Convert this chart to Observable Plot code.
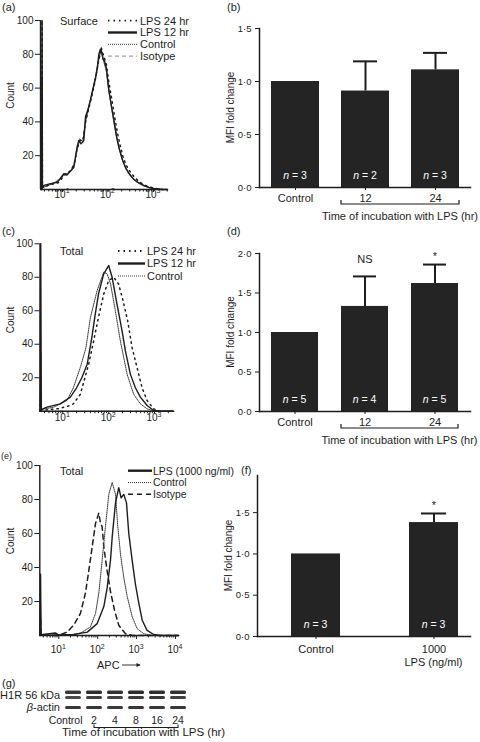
<!DOCTYPE html>
<html>
<head>
<meta charset="utf-8">
<script src="https://cdn.jsdelivr.net/npm/d3@7"></script>
<script src="https://cdn.jsdelivr.net/npm/@observablehq/plot@0.6"></script>
<style>
  html, body { margin: 0; padding: 0; background: #fff; }
  #fig { position: relative; width: 480px; height: 742px; overflow: hidden; background: #fff;
         font-family: "Liberation Sans", Arial, Helvetica, sans-serif; }
  #fig svg { position: absolute; overflow: visible; }
</style>
</head>
<body>
<div id="fig"></div>
<script>
// ======================= DATA =======================
// (a) Surface staining histograms: [fluorescence intensity, count]
const aLps24 = [[3.45,0],[3.55,100],[3.62,1],[5,2.6],[8,4],[10,7],[12,9.5],[15,11],[18,15],[21,24],[24,29],[28,29],[32,40],[37,47],[43,54],[50,62],[56,69],[62,76],[67,80],[71,84],[76,81],[83,78],[92,74],[105,63],[120,54],[140,43],[160,34],[185,26],[215,19],[255,14],[315,10],[390,7],[490,4.5],[640,2.6],[850,1.4],[1200,0.5],[1600,0],[2030,0]];
const aLps12 = [[3.45,0],[3.55,100],[3.62,1],[3.9,2.4],[5.5,3.5],[7.7,4.3],[9.2,7],[10.7,9.3],[12.5,8.5],[14.5,10.5],[17.7,13],[20,22],[22.8,29],[25.5,27],[29.4,29],[32,43],[36,47],[41,53],[47,60],[53,66],[58,72],[63,80],[68,83],[72,82],[78,77],[84,76],[92,72],[104,59],[118,50],[134,41],[152,32],[173,25],[205,18],[243,13],[300,9],[369,6],[470,4],[612,2.4],[800,1.2],[1107,0.4],[1500,0],[2030,0]];
const aControl = [[3.45,0],[3.55,66],[3.62,1],[4.5,2],[6.5,3.8],[9,6],[11,9.5],[13,9],[16,12],[19,17],[21,26],[24,30],[28,28],[31,38],[35,45],[42,54],[50,63],[57,70],[62,77],[66,80],[70,83],[75,79],[82,75],[92,70],[102,61],[118,50],[135,40],[155,31],[178,24],[210,17],[250,12],[310,8],[380,5.5],[480,3.5],[620,2],[850,1],[1150,0.3],[1500,0],[2030,0]];
const aIsotype = [[3.45,0],[3.55,17],[3.62,1],[4.5,2.8],[7,4.2],[10,8],[12,9],[15,11],[18,14],[21,25],[25,29],[29,30],[33,42],[38,49],[44,56],[52,64],[59,72],[64,78],[69,81],[74,80],[80,76],[90,73],[102,60],[118,49],[135,41],[155,32],[175,25],[210,17],[250,12],[310,8],[380,5.5],[480,3.8],[620,2.2],[850,1],[1100,0.4],[1500,0],[2030,0]];

// (c) Total staining histograms
const cLps24 = [[3.2,0],[3.3,12],[3.4,0.5],[8,1.5],[13,3],[17,4.4],[24,10],[36.6,28],[47,42],[60,56],[78,70],[100,78],[129,80],[165,76],[206,66],[260,54],[324,38],[417,26],[535,14],[689,6.4],[962,1.4],[1300,0],[2630,0]];
const cLps12 = [[3.2,0],[3.3,100],[3.4,1],[4.5,2.4],[8.8,4.4],[14.6,8.4],[20,14],[26,20],[34,28],[43,44],[51,58],[60,70],[78,82],[100,87],[119,80],[152,64],[196,48],[232,36],[298,22],[383,14],[492,8.4],[689,3.4],[962,0.4],[1400,0],[2630,0]];
const cControl = [[3.2,0],[3.3,35],[3.4,1],[6.3,2.4],[12.3,6.4],[17,14],[24,26],[32,38],[40,56],[56,72],[78,83],[93,82],[110,76],[140,60],[180,42],[253,22],[352,10],[492,4.4],[689,1.4],[1000,0],[2630,0]];

// (e) Total staining, LPS 1000 ng/ml
const eLps1000 = [[3.3,0],[3.4,36],[3.5,0.5],[8.2,1.5],[10,0.3],[24,0.6],[54,2],[97,7],[144,17],[175,28],[213,44],[236,58],[287,78],[348,87],[400,81],[469,83],[550,78],[630,60],[771,44],[935,30],[1140,19],[1393,9],[1860,3],[2750,0.6],[4000,0],[12000,0]];
const eControl = [[3.3,0],[3.4,20],[3.5,0.5],[20,0.3],[36,1.4],[65,5],[88,13],[107,25],[130,44],[158,64],[193,83],[236,90],[287,83],[329,64],[385,48],[469,34],[573,23],[771,11],[1035,4],[1531,1],[2500,0],[12000,0]];
const eIsotype = [[3.3,0],[3.4,10],[3.5,0.3],[8,0.2],[11,0.6],[16.4,2],[24,6],[36,13],[48.5,25],[59,38],[72,52],[88,66],[107,72],[118,66],[130,64],[144,52],[175,38],[213,26],[270,15],[348,6],[518,1],[800,0],[12000,0]];

// histogram axes
const histCountTicks = [20, 40, 60, 80, 100];
const aDecades = [10, 100, 1000];       const aDecadeExp = ["1", "2", "3"];
const cDecades = [10, 100, 1000];       const cDecadeExp = ["1", "2", "3"];
const eDecades = [10, 100, 1000, 10000]; const eDecadeExp = ["1", "2", "3", "4"];

// (b) surface MFI fold change
const bCategories = ["Control", "12", "24"];
const bMeans = [1.0, 0.91, 1.11];
const bUpper = [null, 1.19, 1.27];
const bN = [3, 2, 3];
const bSig = ["", "", ""];
const bYTicks = [0, 0.5, 1.0, 1.5];

// (d) total MFI fold change
const dCategories = ["Control", "12", "24"];
const dMeans = [1.0, 1.33, 1.62];
const dUpper = [null, 1.71, 1.86];
const dN = [5, 4, 5];
const dSig = ["", "NS", "*"];
const dYTicks = [0, 0.5, 1.0, 1.5, 2.0];

// (f) total MFI fold change, LPS dose
const fCategories = ["Control", "1000"];
const fMeans = [1.0, 1.38];
const fUpper = [null, 1.49];
const fN = [3, 3];
const fSig = ["", "*"];
const fYTicks = [0, 0.5, 1.0, 1.5];

// (g) western blot lanes and relative band intensities
const gLanes = ["Control", "2", "4", "8", "16", "24"];
const gRows = ["H1R upper", "H1R lower", "gap", "β-actin"];
const gH1RUpper = [0.88, 0.92, 0.9, 0.93, 0.92, 0.9];
const gH1RLower = [0.8, 0.85, 0.83, 0.86, 0.88, 0.84];
const gActin = [0.88, 0.88, 0.87, 0.88, 0.88, 0.88];

// ======================= STYLE =======================
const FONT = '"Liberation Sans", Arial, Helvetica, sans-serif';
const INK = "#1d1d1d";
const BAR = "#242424";
const baseStyle = {fontFamily: FONT, fontSize: "10px", color: INK, background: "transparent", overflow: "visible"};
const lineStyles = {
  lps24:    {stroke: INK, width: 1.5, dash: "1.5,4", legendWidth: 1.8},
  lps12:    {stroke: INK, width: 1.4, dash: null, legendWidth: 2.4},
  control:  {stroke: "#3a3a3a", width: 1, dash: "1,1", legendWidth: 1},
  isoGrey:  {stroke: "#a2a2a2", width: 1.2, dash: "4,3", legendWidth: 1.2},
  isoBlack: {stroke: INK, width: 1.5, dash: "5,4", legendWidth: 1.5}
};
const dotFmt = d => d3.format(".1f")(d).replace(".", "·");

const figEl = document.getElementById("fig");
function place(svg, left, top) {
  svg.style.left = left + "px";
  svg.style.top = top + "px";
  figEl.appendChild(svg);
}
function txt(g, x, y, s, size, anchor = "start", fill = INK) {
  return g.append("text").attr("x", x).attr("y", y).attr("font-size", size)
    .attr("text-anchor", anchor).attr("fill", fill).attr("font-family", FONT).text(s);
}

// ======================= HISTOGRAMS =======================
const histPanels = [
  {top: 0, height: 225, mLeft: 40, xEnd: 167, mTop: 20, yZero: 189, domain: [3.28, 2032],
   decades: aDecades, exps: aDecadeExp, labelGap: 8.5, majorTick: 3,
   title: "Surface", legendLine: [108, 137], legendText: 140, legendY0: 20.7, legendStep: 11.8, countDy: -9, legendSize: 11,
   series: [["LPS 24 hr", aLps24, "lps24"], ["LPS 12 hr", aLps12, "lps12"], ["Control", aControl, "control"], ["Isotype", aIsotype, "isoGrey"]]},
  {top: 225, height: 225, mLeft: 39.5, xEnd: 173.3, mTop: 18.3, yZero: 185.7, domain: [3.18, 2636],
   decades: cDecades, exps: cDecadeExp, labelGap: 10.5, majorTick: 3,
   title: "Total", legendLine: [118, 145], legendText: 147, legendY0: 251, legendStep: 12.5, countDy: -7, legendSize: 11,
   series: [["LPS 24 hr", cLps24, "lps24"], ["LPS 12 hr", cLps12, "lps12"], ["Control", cControl, "control"]]},
  {top: 450, height: 225, mLeft: 39.3, xEnd: 178.3, mTop: 15, yZero: 185, domain: [3.25, 12160],
   decades: eDecades, exps: eDecadeExp, labelGap: 18, majorTick: 4,
   title: "Total", legendLine: [128, 152], legendText: 153, legendY0: 470.7, legendStep: 11.8, countDy: -9, legendSize: 10.4,
   series: [["LPS (1000 ng/ml)", eLps1000, "lps12"], ["Control", eControl, "control"], ["Isotype", eIsotype, "isoBlack"]]}
];

function histogram(p) {
  const [lo, hi] = p.domain;
  const minor = [];
  for (let k = 0; k <= 4; k++) for (let m = 2; m <= 9; m++) {
    const v = m * 10 ** k;
    if (v > lo && v < hi) minor.push(v);
  }
  const drawOrder = [...p.series].reverse();
  const plot = Plot.plot({
    width: 240, height: p.height,
    marginLeft: p.mLeft, marginRight: 240 - p.xEnd, marginTop: p.mTop, marginBottom: p.height - p.yZero,
    style: baseStyle,
    x: {type: "log", domain: p.domain},
    y: {domain: [0, 100]},
    marks: [
      ...drawOrder.map(([name, data, key]) => {
        const s = lineStyles[key];
        return Plot.line(data, {x: d => d[0], y: d => d[1], stroke: s.stroke, strokeWidth: s.width,
          strokeDasharray: s.dash || undefined, strokeLinejoin: "round"});
      }),
      Plot.ruleY([0], {stroke: INK, strokeWidth: 1.4}),
      Plot.ruleX([lo], {stroke: INK, strokeWidth: 1.4}),
      Plot.axisY({ticks: histCountTicks, tickSize: 5, tickPadding: 2, label: null, fontSize: 10}),
      Plot.axisX({ticks: minor, tickSize: 2.5, tickFormat: () => "", label: null}),
      Plot.axisX({ticks: p.decades, tickSize: p.majorTick, tickFormat: () => "", label: null})
    ]
  });
  const sx = plot.scale("x"), sy = plot.scale("y");
  const g = d3.select(plot).append("g");
  p.decades.forEach((v, i) => {
    const t = g.append("text").attr("x", sx.apply(v)).attr("y", sy.apply(0) + p.labelGap)
      .attr("text-anchor", "middle").attr("font-size", 10).attr("fill", INK).attr("font-family", FONT);
    t.append("tspan").text("10");
    t.append("tspan").attr("font-size", 7).attr("dy", -4.5).text(p.exps[i]);
  });
  // y-axis title
  const cy = (sy.apply(0) + sy.apply(100)) / 2 + p.countDy;
  g.append("text").attr("transform", `translate(13.5,${cy}) rotate(-90)`)
    .attr("text-anchor", "middle").attr("font-size", 10).attr("fill", INK).attr("font-family", FONT).text("Count");
  place(plot, 0, p.top);
  return plot;
}
histPanels.forEach(histogram);

// ======================= BAR CHARTS =======================
const barPanels = [
  {top: 0, mLeft: 59, mTop: 28, mBottom: 43, yDomain: [0, 1.5], yTicks: bYTicks,
   cats: bCategories, means: bMeans, upper: bUpper, n: bN, sig: bSig, pIn: 0.32, pOut: 0.156, tickPad: 4,
   bracket: ["12", "24"], bracketTitle: "Time of incubation with LPS (hr)"},
  {top: 225, mLeft: 59, mTop: 28, mBottom: 44, yDomain: [0, 2], yTicks: dYTicks,
   cats: dCategories, means: dMeans, upper: dUpper, n: dN, sig: dSig, pIn: 0.329, pOut: 0.164, tickPad: 4,
   bracket: ["12", "24"], bracketTitle: "Time of incubation with LPS (hr)"},
  {top: 450, mLeft: 57, mTop: 25, mBottom: 44, yDomain: [0, 1.95], yTicks: fYTicks,
   cats: fCategories, means: fMeans, upper: fUpper, n: fN, sig: fSig, pIn: 0.588, pOut: 0.1, range: [79, 270], tickPad: 5.5,
   subLabel: ["1000", "LPS (ng/ml)"]}
];

function barPanel(p) {
  const rows = p.cats.map((c, i) => ({c, m: p.means[i], u: p.upper[i], n: p.n[i], s: p.sig[i]}));
  const err = rows.filter(r => r.u != null);
  const xOpts = {type: "band", domain: p.cats, paddingInner: p.pIn, paddingOuter: p.pOut};
  if (p.range) xOpts.range = p.range;
  const plot = Plot.plot({
    width: 280, height: 230, marginLeft: p.mLeft, marginRight: 10, marginTop: p.mTop, marginBottom: p.mBottom,
    style: baseStyle,
    x: xOpts,
    y: {domain: p.yDomain},
    marks: [
      Plot.ruleX(err, {x: "c", y1: "m", y2: "u", stroke: INK, strokeWidth: 2}),
      Plot.tickY(err, {x: "c", y: "u", stroke: INK, strokeWidth: 2, insetLeft: 12, insetRight: 12}),
      Plot.barY(rows, {x: "c", y: "m", fill: BAR}),
      Plot.text(rows.filter(r => r.s === "NS"), {x: "c", y: "u", text: "s", dy: -17, fontSize: 11, fill: INK}),
      Plot.text(rows.filter(r => r.s === "*"), {x: "c", y: "u", text: "s", dy: -8, fontSize: 11, fill: INK}),
      Plot.axisY({ticks: p.yTicks, tickSize: 4, tickPadding: 4, tickFormat: dotFmt, label: null, fontSize: 9.5}),
      Plot.axisX({tickSize: 3, tickPadding: p.tickPad, label: null, fontSize: 11}),
      Plot.frame({anchor: "left", stroke: INK, strokeWidth: 1.5}),
      Plot.frame({anchor: "bottom", stroke: INK, strokeWidth: 1.5})
    ]
  });
  const sx = plot.scale("x"), sy = plot.scale("y");
  const bw = sx.bandwidth;
  const y0 = sy.apply(0);
  const g = d3.select(plot).append("g");
  // n = labels inside bars
  rows.forEach(r => {
    const t = g.append("text").attr("x", sx.apply(r.c) + bw / 2).attr("y", y0 - 8.5)
      .attr("text-anchor", "middle").attr("font-size", 10.5).attr("fill", "#fff").attr("font-family", FONT);
    t.append("tspan").attr("font-style", "italic").text("n");
    t.append("tspan").text(" = " + r.n);
  });
  // y-axis title
  const cy = (sy.apply(p.yDomain[0]) + sy.apply(p.yDomain[1])) / 2;
  g.append("text").attr("transform", `translate(${p.mLeft - 25},${cy}) rotate(-90)`)
    .attr("text-anchor", "middle").attr("font-size", 10).attr("fill", INK).attr("font-family", FONT).text("MFI fold change");
  // bracket
  if (p.bracket) {
    const x1 = sx.apply(p.bracket[0]), x2 = sx.apply(p.bracket[1]) + bw;
    const yb = y0 + 17;
    g.append("path").attr("d", `M${x1},${yb - 4}V${yb}H${x2}V${yb - 4}`)
      .attr("fill", "none").attr("stroke", INK).attr("stroke-width", 1.2);
    txt(g, (x1 + x2) / 2, y0 + 33, p.bracketTitle, 11, "middle");
  }
  if (p.subLabel) {
    txt(g, sx.apply(p.subLabel[0]) + bw / 2, y0 + 29.5, p.subLabel[1], 11, "middle");
  }
  place(plot, 200, p.top);
  return plot;
}
barPanels.forEach(barPanel);

// ======================= WESTERN BLOT (g) =======================
(function blot() {
  const cells = [];
  gLanes.forEach((lane, i) => {
    cells.push({lane, row: "H1R upper", v: gH1RUpper[i]});
    cells.push({lane, row: "H1R lower", v: gH1RLower[i]});
    cells.push({lane, row: "β-actin", v: gActin[i]});
  });
  const plot = Plot.plot({
    width: 240, height: 70, marginLeft: 60, marginRight: 49, marginTop: 18, marginBottom: 31,
    style: baseStyle,
    x: {type: "band", domain: gLanes, paddingInner: 0.22, paddingOuter: 0.1, axis: null},
    y: {type: "band", domain: gRows, paddingInner: 0.35, paddingOuter: 0, axis: null},
    marks: [
      Plot.cell(cells.filter(d => d.row === "H1R upper"), {x: "lane", y: "row", fill: INK, fillOpacity: "v", rx: 1.5, insetTop: -0.5}),
      Plot.cell(cells.filter(d => d.row !== "H1R upper"), {x: "lane", y: "row", fill: INK, fillOpacity: "v", rx: 1.5})
    ]
  });
  const sx = plot.scale("x"), sy = plot.scale("y");
  const bw = sx.bandwidth;
  const g = d3.select(plot).append("g");
  gLanes.forEach((lane, i) => {
    if (i === 0) txt(g, sx.apply(lane) + bw + 1.5, 51.5, lane, 10.5, "end");
    else txt(g, sx.apply(lane) + bw / 2, 51.5, lane, 10.5, "middle");
  });
  const h1rY = (sy.apply("H1R upper") + sy.apply("H1R lower") + sy.bandwidth) / 2;
  txt(g, 60, h1rY + 3.8, "H1R 56 kDa", 11, "end");
  const ba = g.append("text").attr("x", 60).attr("y", sy.apply("β-actin") + sy.bandwidth / 2 + 3.8)
    .attr("text-anchor", "end").attr("font-size", 11).attr("fill", INK).attr("font-family", FONT);
  ba.append("tspan").attr("font-style", "italic").text("β");
  ba.append("tspan").text("-actin");
  const x1 = sx.apply("2") + bw / 2, x2 = sx.apply("24") + bw / 2;
  g.append("path").attr("d", `M${x1},52.5V55.5H${x2}V52.5`).attr("fill", "none").attr("stroke", INK).attr("stroke-width", 1.1);
  txt(g, 62, 64, "Time of incubation with LPS (hr)", 11.5, "start");
  place(plot, 0, 672);
})();

// ======================= PAGE OVERLAY (labels, legends) =======================
const over = d3.select("#fig").append("svg").attr("width", 480).attr("height", 742)
  .style("left", "0px").style("top", "0px");
txt(over, 2, 11, "(a)", 11);
txt(over, 227, 11, "(b)", 11);
txt(over, 2, 235, "(c)", 11);
txt(over, 227, 235, "(d)", 11);
txt(over, 1, 459, "(e)", 9);
txt(over, 241, 474, "(f)", 11);
txt(over, 2, 687, "(g)", 11);

histPanels.forEach(p => {
  txt(over, 60, p.legendY0 + 3.8, p.title, 11);
  p.series.forEach(([name, data, key], i) => {
    const s = lineStyles[key];
    const y = p.legendY0 + i * p.legendStep;
    over.append("line").attr("x1", p.legendLine[0]).attr("x2", p.legendLine[1]).attr("y1", y).attr("y2", y)
      .attr("stroke", s.stroke).attr("stroke-width", s.legendWidth).attr("stroke-dasharray", s.dash || null);
    txt(over, p.legendText, y + 3.9, name, p.legendSize);
  });
});
// APC axis label with arrow
txt(over, 97, 669, "APC", 11);
over.append("path").attr("d", "M122,665H140").attr("stroke", INK).attr("stroke-width", 0.9);
over.append("path").attr("d", "M136.5,663L140.5,665L136.5,667Z").attr("fill", INK);
</script>
</body>
</html>
